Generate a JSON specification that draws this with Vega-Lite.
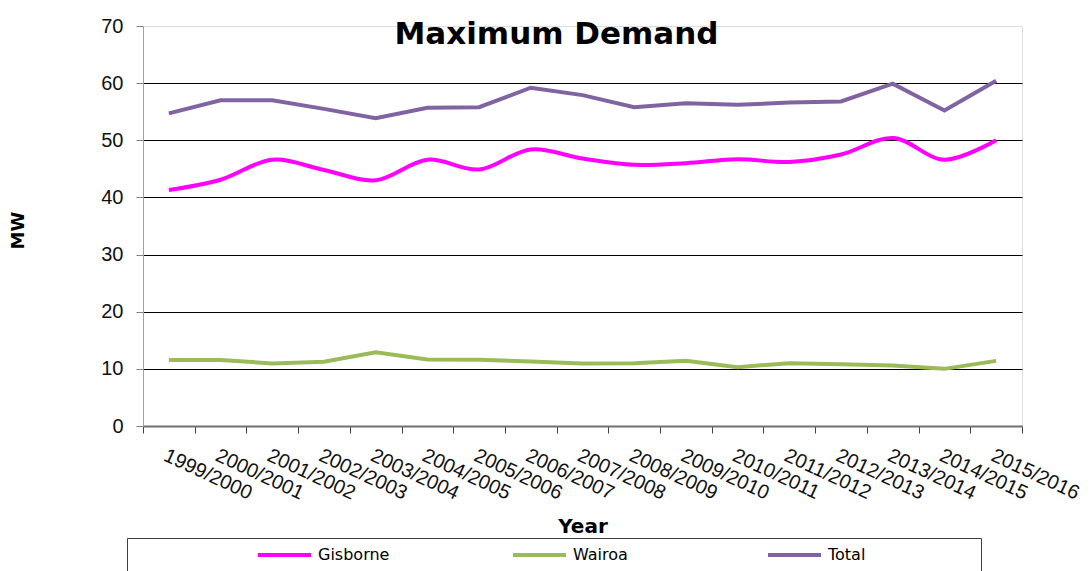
{
  "$schema": "https://vega.github.io/schema/vega-lite/v6.json",
  "width": 879,
  "height": 400,
  "autosize": {"type": "none"},
  "padding": {"left": 143, "top": 26, "right": 70, "bottom": 145},
  "background": "white",
  "title": {
    "text": "Maximum Demand",
    "font": "DejaVu Sans",
    "fontSize": 31,
    "fontWeight": "bold",
    "color": "black",
    "anchor": "middle",
    "frame": "group",
    "baseline": "alphabetic",
    "offset": 0,
    "dy": 59,
    "dx": -26
  },
  "data": {
    "values": [
      {"year": "1999/2000", "series": "Gisborne", "mw": 41.3},
      {"year": "2000/2001", "series": "Gisborne", "mw": 43.1},
      {"year": "2001/2002", "series": "Gisborne", "mw": 46.6},
      {"year": "2002/2003", "series": "Gisborne", "mw": 44.8},
      {"year": "2003/2004", "series": "Gisborne", "mw": 43.0},
      {"year": "2004/2005", "series": "Gisborne", "mw": 46.6},
      {"year": "2005/2006", "series": "Gisborne", "mw": 44.9},
      {"year": "2006/2007", "series": "Gisborne", "mw": 48.4},
      {"year": "2007/2008", "series": "Gisborne", "mw": 46.8},
      {"year": "2008/2009", "series": "Gisborne", "mw": 45.7},
      {"year": "2009/2010", "series": "Gisborne", "mw": 46.0},
      {"year": "2010/2011", "series": "Gisborne", "mw": 46.7},
      {"year": "2011/2012", "series": "Gisborne", "mw": 46.2},
      {"year": "2012/2013", "series": "Gisborne", "mw": 47.5},
      {"year": "2013/2014", "series": "Gisborne", "mw": 50.4},
      {"year": "2014/2015", "series": "Gisborne", "mw": 46.6},
      {"year": "2015/2016", "series": "Gisborne", "mw": 50.0},
      {"year": "1999/2000", "series": "Wairoa", "mw": 11.55},
      {"year": "2000/2001", "series": "Wairoa", "mw": 11.55},
      {"year": "2001/2002", "series": "Wairoa", "mw": 10.95},
      {"year": "2002/2003", "series": "Wairoa", "mw": 11.25},
      {"year": "2003/2004", "series": "Wairoa", "mw": 12.9},
      {"year": "2004/2005", "series": "Wairoa", "mw": 11.65},
      {"year": "2005/2006", "series": "Wairoa", "mw": 11.6},
      {"year": "2006/2007", "series": "Wairoa", "mw": 11.3},
      {"year": "2007/2008", "series": "Wairoa", "mw": 10.95},
      {"year": "2008/2009", "series": "Wairoa", "mw": 11.0},
      {"year": "2009/2010", "series": "Wairoa", "mw": 11.4},
      {"year": "2010/2011", "series": "Wairoa", "mw": 10.3},
      {"year": "2011/2012", "series": "Wairoa", "mw": 11.0},
      {"year": "2012/2013", "series": "Wairoa", "mw": 10.8},
      {"year": "2013/2014", "series": "Wairoa", "mw": 10.6},
      {"year": "2014/2015", "series": "Wairoa", "mw": 10.0},
      {"year": "2015/2016", "series": "Wairoa", "mw": 11.4},
      {"year": "1999/2000", "series": "Total", "mw": 54.7},
      {"year": "2000/2001", "series": "Total", "mw": 57.0},
      {"year": "2001/2002", "series": "Total", "mw": 57.0},
      {"year": "2002/2003", "series": "Total", "mw": 55.5},
      {"year": "2003/2004", "series": "Total", "mw": 53.85},
      {"year": "2004/2005", "series": "Total", "mw": 55.7},
      {"year": "2005/2006", "series": "Total", "mw": 55.8},
      {"year": "2006/2007", "series": "Total", "mw": 59.2},
      {"year": "2007/2008", "series": "Total", "mw": 57.9},
      {"year": "2008/2009", "series": "Total", "mw": 55.8},
      {"year": "2009/2010", "series": "Total", "mw": 56.5},
      {"year": "2010/2011", "series": "Total", "mw": 56.2},
      {"year": "2011/2012", "series": "Total", "mw": 56.6},
      {"year": "2012/2013", "series": "Total", "mw": 56.8},
      {"year": "2013/2014", "series": "Total", "mw": 59.9},
      {"year": "2014/2015", "series": "Total", "mw": 55.2},
      {"year": "2015/2016", "series": "Total", "mw": 60.4}
    ]
  },
  "encoding": {
    "x": {
      "field": "year",
      "type": "nominal",
      "sort": null,
      "scale": {"type": "band", "paddingInner": 0, "paddingOuter": 0},
      "axis": {
        "title": "Year",
        "titleFont": "DejaVu Sans",
        "titleFontSize": 20,
        "titleFontWeight": "bold",
        "titleColor": "black",
        "titleBaseline": "alphabetic",
        "titleY": 106,
        "labelAngle": 25,
        "labelAlign": "left",
        "labelBaseline": "top",
        "labelFont": "Liberation Sans",
        "labelFontSize": 20,
        "labelColor": "#111111",
        "labelPadding": 12,
        "labelOverlap": false,
        "tickBand": "extent",
        "tickSize": 7,
        "tickColor": "#404040",
        "tickWidth": 1,
        "domainColor": "#707070",
        "domainWidth": 2,
        "grid": false
      }
    },
    "y": {
      "field": "mw",
      "type": "quantitative",
      "scale": {"domain": [0, 70], "nice": false, "zero": true},
      "axis": {
        "title": "MW",
        "titleFont": "DejaVu Sans",
        "titleFontSize": 18,
        "titleFontWeight": "bold",
        "titleColor": "black",
        "titleAngle": 270,
        "titleAlign": "center",
        "titleBaseline": "alphabetic",
        "titleX": -120,
        "titleY": 204,
        "values": [0, 10, 20, 30, 40, 50, 60, 70],
        "labelFont": "Liberation Sans",
        "labelFontSize": 20,
        "labelColor": "#111111",
        "labelPadding": 13,
        "tickSize": 7,
        "tickColor": "#808080",
        "domainColor": "#a0a0a0",
        "domainWidth": 1,
        "grid": true,
        "gridColor": "black",
        "gridWidth": 1,
        "gridOpacity": {"condition": {"test": "datum.value == 70 || datum.value == 0", "value": 0}, "value": 1}
      }
    },
    "color": {
      "field": "series",
      "type": "nominal",
      "scale": {"domain": ["Gisborne", "Wairoa", "Total"], "range": ["#ff00ff", "#9bbb59", "#8064a2"]},
      "legend": {
        "title": " ",
        "titleOrient": "right",
        "titlePadding": 108,
        "orient": "none",
        "legendX": -16,
        "legendY": 512,
        "direction": "horizontal",
        "columns": 3,
        "gridAlign": "all",
        "columnPadding": -5,
        "clipHeight": 18,
        "symbolType": "stroke",
        "symbolSize": 2809,
        "symbolStrokeWidth": 4,
        "symbolOffset": 121,
        "labelOffset": 5,
        "labelFont": "DejaVu Sans",
        "labelFontSize": 16,
        "labelColor": "black",
        "strokeColor": "#404040",
        "padding": 8
      }
    }
  },
  "layer": [
    {
      "transform": [{"filter": "datum.series == 'Gisborne'"}],
      "mark": {"type": "line", "interpolate": "catmull-rom", "strokeWidth": 4}
    },
    {
      "transform": [{"filter": "datum.series != 'Gisborne'"}],
      "mark": {"type": "line", "strokeWidth": 4}
    }
  ]
}
